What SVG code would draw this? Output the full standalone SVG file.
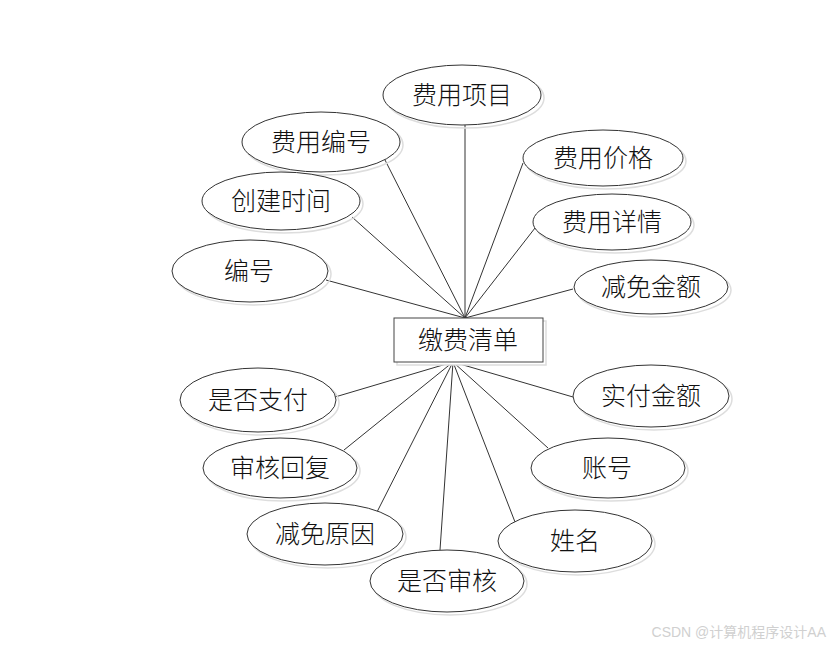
<svg xmlns="http://www.w3.org/2000/svg" width="836" height="648" viewBox="0 0 836 648">
<style>
.e{fill:#fff;stroke:#333;stroke-width:1}
.s{fill:none;stroke:#ddd;stroke-width:1.5}
.t{font-family:"Noto Sans CJK SC","Liberation Sans",sans-serif;font-size:25px;font-weight:300;fill:#111;text-anchor:middle;dominant-baseline:central}
.c line{stroke:#333;stroke-width:1}
</style>
<rect width="836" height="648" fill="#fff"/>
<g class="c" id="connectors">
<line x1="465" y1="125" x2="465" y2="318"/>
<line x1="384" y1="158" x2="465" y2="318"/>
<line x1="352" y1="217" x2="465" y2="318"/>
<line x1="326" y1="280" x2="465" y2="318"/>
<line x1="523" y1="163" x2="465" y2="318"/>
<line x1="535" y1="228" x2="465" y2="318"/>
<line x1="573" y1="289" x2="465" y2="318"/>
<line x1="335" y1="397" x2="453" y2="362"/>
<line x1="344" y1="450" x2="453" y2="362"/>
<line x1="377" y1="512" x2="453" y2="362"/>
<line x1="440" y1="550" x2="453" y2="362"/>
<line x1="515" y1="522" x2="453" y2="362"/>
<line x1="548" y1="448" x2="453" y2="362"/>
<line x1="573" y1="397" x2="453" y2="362"/>
</g>
<g id="center">
<rect x="397" y="321" width="149" height="44" fill="#fff" stroke="#ddd" stroke-width="1.5"/>
<rect x="394" y="318" width="149" height="44" fill="#fff" stroke="#444" stroke-width="1"/>
<text class="t" x="468" y="338">缴费清单</text>
</g>
<g id="n1"><ellipse class="s" cx="465" cy="98" rx="79" ry="30"/><ellipse class="e" cx="462" cy="95" rx="79" ry="30"/><text class="t" x="462" y="93">费用项目</text></g>
<g id="n2"><ellipse class="s" cx="324" cy="145" rx="79" ry="30"/><ellipse class="e" cx="321" cy="142" rx="79" ry="30"/><text class="t" x="321" y="140">费用编号</text></g>
<g id="n3"><ellipse class="s" cx="284" cy="204" rx="79" ry="29"/><ellipse class="e" cx="281" cy="201" rx="79" ry="29"/><text class="t" x="281" y="199">创建时间</text></g>
<g id="n4"><ellipse class="s" cx="253" cy="274" rx="78" ry="31"/><ellipse class="e" cx="250" cy="271" rx="78" ry="31"/><text class="t" x="249" y="269">编号</text></g>
<g id="n5"><ellipse class="s" cx="606" cy="161" rx="80" ry="28"/><ellipse class="e" cx="603" cy="158" rx="80" ry="28"/><text class="t" x="603" y="156">费用价格</text></g>
<g id="n6"><ellipse class="s" cx="615" cy="225" rx="79" ry="28"/><ellipse class="e" cx="612" cy="222" rx="79" ry="28"/><text class="t" x="612" y="220">费用详情</text></g>
<g id="n7"><ellipse class="s" cx="654" cy="290" rx="77" ry="27"/><ellipse class="e" cx="651" cy="287" rx="77" ry="27"/><text class="t" x="651" y="285">减免金额</text></g>
<g id="n8"><ellipse class="s" cx="261" cy="403" rx="78" ry="32"/><ellipse class="e" cx="258" cy="400" rx="78" ry="32"/><text class="t" x="258" y="398">是否支付</text></g>
<g id="n9"><ellipse class="s" cx="283" cy="471" rx="77" ry="30"/><ellipse class="e" cx="280" cy="468" rx="77" ry="30"/><text class="t" x="280" y="466">审核回复</text></g>
<g id="n10"><ellipse class="s" cx="328" cy="537" rx="78" ry="31"/><ellipse class="e" cx="325" cy="534" rx="78" ry="31"/><text class="t" x="325" y="532">减免原因</text></g>
<g id="n11"><ellipse class="s" cx="450" cy="584" rx="77" ry="31"/><ellipse class="e" cx="447" cy="581" rx="77" ry="31"/><text class="t" x="447" y="579">是否审核</text></g>
<g id="n12"><ellipse class="s" cx="578" cy="544" rx="77" ry="31"/><ellipse class="e" cx="575" cy="541" rx="77" ry="31"/><text class="t" x="575" y="539">姓名</text></g>
<g id="n13"><ellipse class="s" cx="611" cy="471" rx="77" ry="30"/><ellipse class="e" cx="608" cy="468" rx="77" ry="30"/><text class="t" x="607" y="466">账号</text></g>
<g id="n14"><ellipse class="s" cx="654" cy="399" rx="78" ry="31"/><ellipse class="e" cx="651" cy="396" rx="78" ry="31"/><text class="t" x="651" y="394">实付金额</text></g>
<text x="826" y="637" font-family="'Liberation Sans','Noto Sans CJK SC',sans-serif" font-size="14" fill="#d0d0d0" text-anchor="end">CSDN @计算机程序设计AA</text>
</svg>
